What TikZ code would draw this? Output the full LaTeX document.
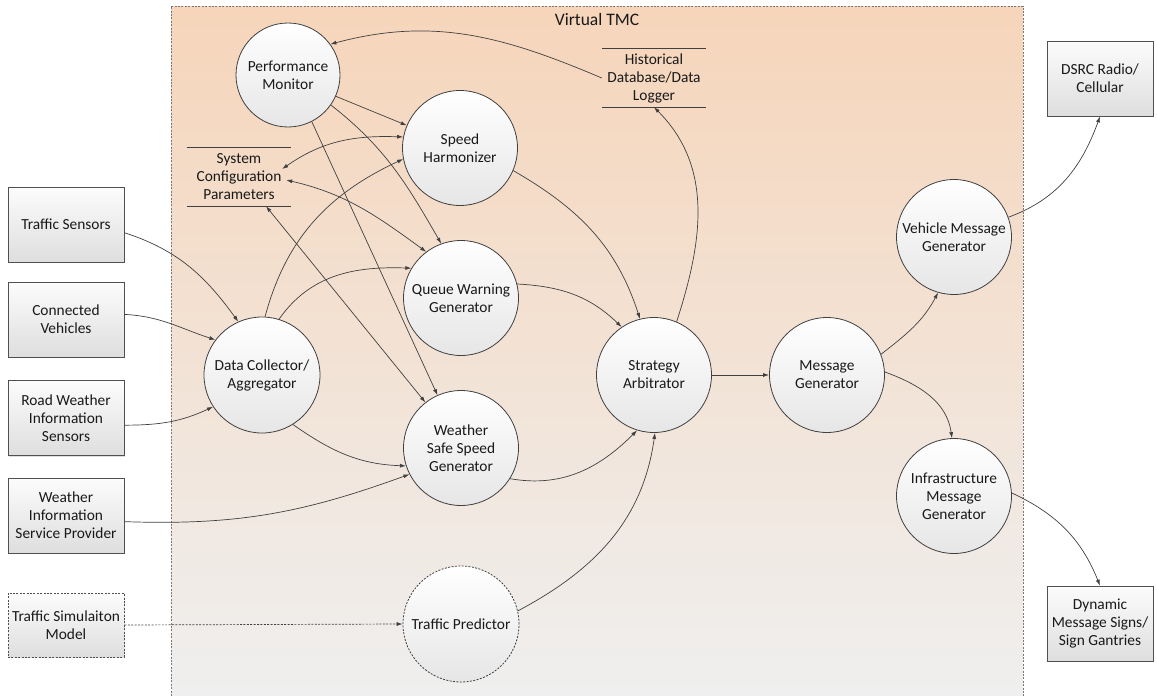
\documentclass[tikz,border=0pt]{standalone}
\usepackage{fontspec}
\setmainfont{Carlito}
\usetikzlibrary{arrows.meta,shadows}

\definecolor{tmctop}{RGB}{246,213,186}
\definecolor{tmcbot}{RGB}{239,239,239}
\definecolor{tmcline}{RGB}{120,120,120}
\definecolor{edge}{RGB}{64,64,64}
\definecolor{circbot}{RGB}{230,230,230}
\definecolor{boxtop}{RGB}{252,252,252}
\definecolor{boxbot}{RGB}{222,222,222}
\definecolor{boxedge}{RGB}{80,80,80}
\definecolor{ink}{RGB}{25,25,25}

\begin{document}
\begin{tikzpicture}[x=1pt,y=1pt,
  font=\fontsize{15.4}{18}\selectfont, text=ink,
  proc/.style={circle, draw=edge, line width=0.8pt, top color=white,
    bottom color=circbot, minimum size=115pt, inner sep=0pt, align=center},
  ext/.style={rectangle, draw=boxedge, line width=0.8pt, top color=boxtop,
    bottom color=boxbot, minimum width=116pt, minimum height=75pt,
    inner sep=0pt, align=center,
    drop shadow={shadow xshift=1.2pt, shadow yshift=-1.2pt, fill=black!25, opacity=0.5}},
  store/.style={rectangle, inner sep=0pt, minimum width=104pt,
    minimum height=58pt, text width=104pt, align=center},
  storeline/.style={draw=edge, line width=0.8pt},
  flow/.style={draw=edge, line width=0.7pt, -{Latex[length=6pt,width=4pt]}},
  both/.style={draw=edge, line width=0.7pt,
    {Latex[length=6pt,width=4pt]}-{Latex[length=6pt,width=4pt]}},
  fine dash/.style={dash pattern=on 2pt off 1.4pt}
]
\useasboundingbox (0,0) rectangle (1157,-696);

% Virtual TMC region
\shade[top color=tmctop, bottom color=tmcbot] (171,-6) rectangle (1023,-696);
\draw[tmcline, line width=0.7pt, fine dash] (171,-696) -- (171,-6) -- (1023,-6) -- (1023,-696);
\node (tmc) at (597,-19) {\fontsize{17.5}{20}\selectfont Virtual TMC};

% Processes inside the TMC
\node[proc, minimum size=104pt] (pm) at (288,-75) {Performance\\Monitor};
\node[proc] (sh)  at (460,-148) {Speed\\Harmonizer};
\node[proc] (qw)  at (461,-298) {Queue Warning\\Generator};
\node[proc] (wss) at (461,-448) {Weather\\Safe Speed\\Generator};
\node[proc, minimum size=116pt] (dc) at (262,-375) {Data Collector/\\Aggregator};
\node[proc] (sa)  at (654,-375) {Strategy\\Arbitrator};
\node[proc] (mg)  at (827,-375) {Message\\Generator};
\node[proc] (vmg) at (954,-237) {Vehicle Message\\Generator};
\node[proc] (img) at (954,-496) {Infrastructure\\Message\\Generator};
\node[proc, fine dash, minimum size=116pt] (tp) at (461,-624) {Traffic Predictor};

% Data stores
\node[store] (sc) at (239,-177) {System\\Configuration\\Parameters};
\draw[storeline] (sc.north west) -- (sc.north east);
\draw[storeline] (sc.south west) -- (sc.south east);
\node[store] (hd) at (654,-78) {Historical\\Database/Data\\Logger};
\draw[storeline] (hd.north west) -- (hd.north east);
\draw[storeline] (hd.south west) -- (hd.south east);

% External entities
\node[ext] (ts)   at (66,-224.5) {Traffic Sensors};
\node[ext] (cv)   at (66,-319.5) {Connected\\Vehicles};
\node[ext] (rw)   at (66,-418)   {Road Weather\\Information\\Sensors};
\node[ext] (wisp) at (66,-515.5) {Weather\\Information\\Service Provider};
\node[ext, fine dash, minimum height=64pt] (tsm) at (66,-625) {Traffic Simulaiton\\Model};
\node[ext, minimum width=106pt] (dsrc) at (1100,-78.5) {DSRC Radio/\\Cellular};
\node[ext, minimum width=106pt] (dms)  at (1100,-623.5) {Dynamic\\Message Signs/\\Sign Gantries};

% Flows
\draw[flow] (hd.west) to[out=157,in=15] (pm.36);
\draw[flow] (sa.67) to[out=72,in=-45] (hd.south);
\draw[flow] (pm.-24) -- (sh.157);
\draw[flow] (pm.-35) to[out=-38,in=120] (qw.110);
\draw[flow] (pm.-63) -- (wss.114);
\draw[flow] (sh.-23) to[out=-30,in=108] (sa.104);
\draw[both] ([shift={(-9pt,8pt)}]sc.east) to[out=35,in=178] (sh.169);
\draw[flow] (dc.87) to[out=75,in=205] (sh.191);
\draw[both] ([shift={(-5pt,-3pt)}]sc.east) to[out=-13,in=144] (qw.127);
\draw[both] ([xshift=27pt]sc.south) -- (wss.128);
\draw[flow] (dc.73) to[out=55,in=178] (qw.149);
\draw[flow] (ts.-8) to[out=-18,in=126] (dc.114);
\draw[flow] (cv.5) to[out=-3,in=162] (dc.143);
\draw[flow] (rw.-7) to[out=0,in=205] (dc.213);
\draw[flow] (dc.-58) to[out=-35,in=178] (wss.198);
\draw[flow] (wisp.-6) to[out=-2,in=200] (wss.207);
\draw[flow] (qw.14) to[out=-3,in=136] (sa.124);
\draw[flow] (wss.-32) to[out=-10,in=225] (sa.253);
\draw[flow] (tp.13) to[out=28,in=262] (sa.-89);
\draw[flow, fine dash] (tsm.east) -- (tp.west);
\draw[flow] (sa.east) -- (mg.west);
\draw[flow] (mg.21) to[out=38,in=242] (vmg.254);
\draw[flow] (mg.3) to[out=-20,in=98] (img.92);
\draw[flow] (vmg.20) to[out=20,in=250] (dsrc.south);
\draw[flow] (img.3) to[out=-25,in=112] (dms.north);
\end{tikzpicture}
\end{document}
